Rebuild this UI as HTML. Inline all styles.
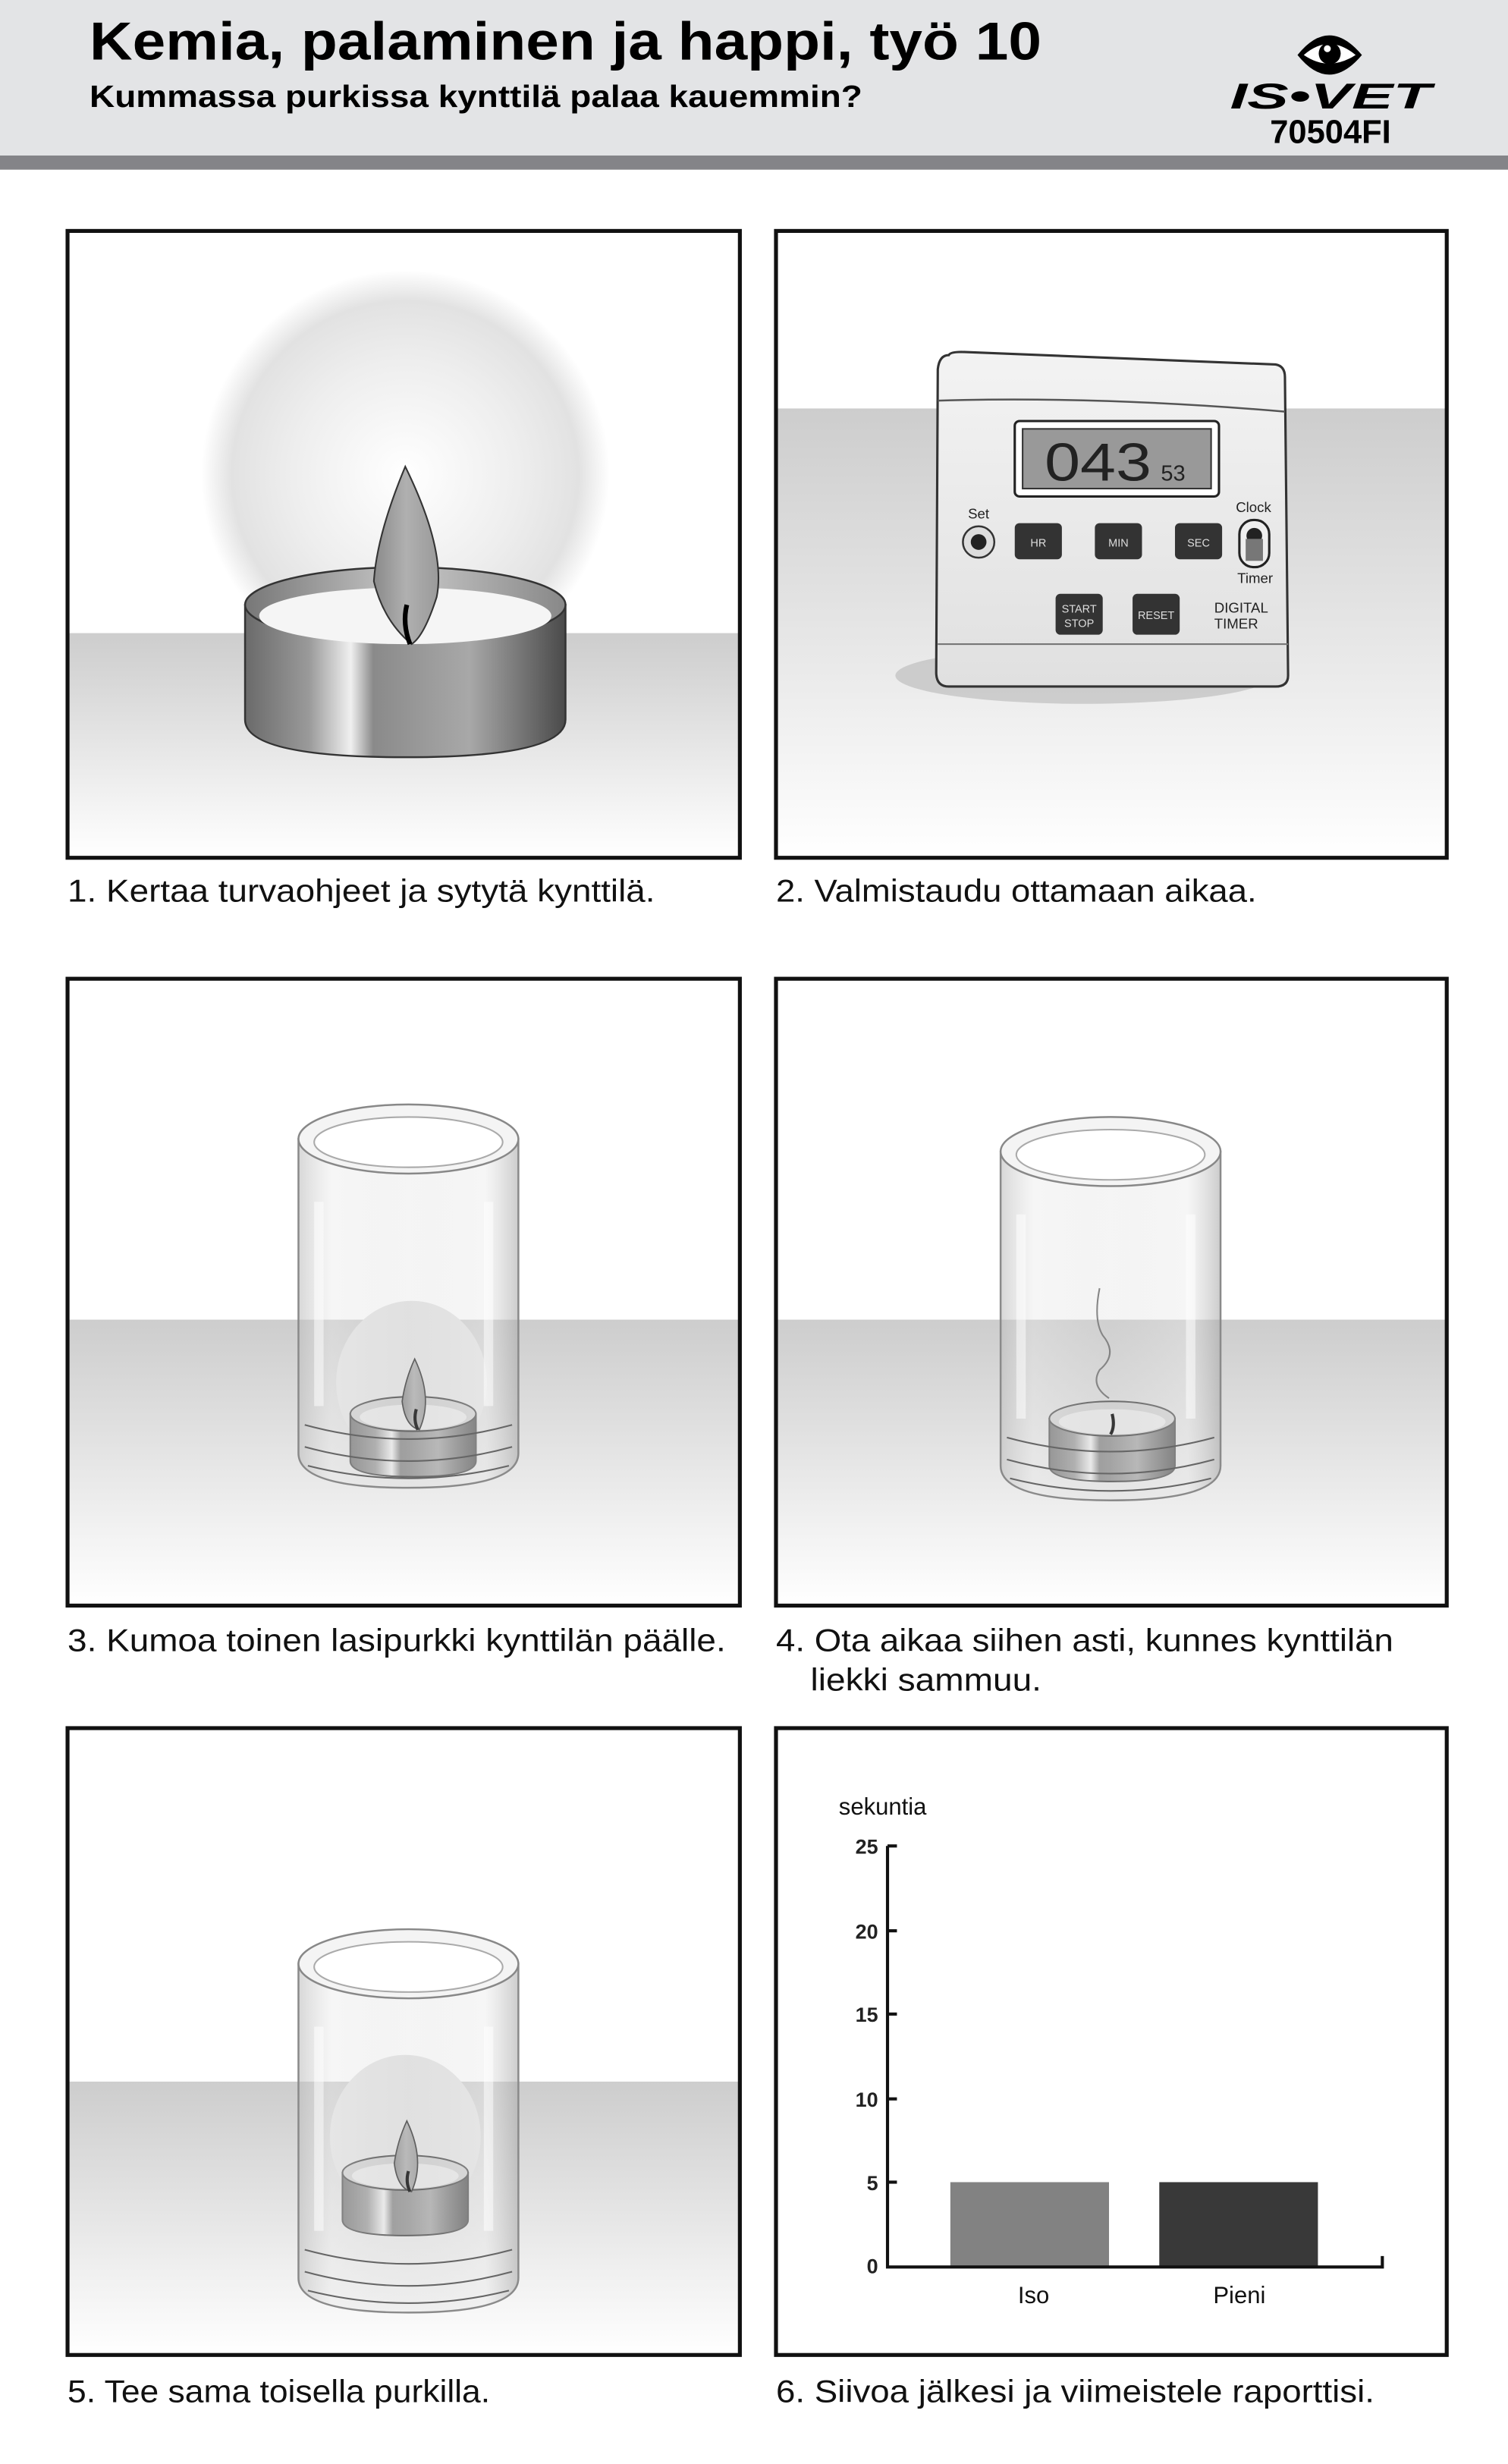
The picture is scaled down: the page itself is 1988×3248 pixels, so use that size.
<!DOCTYPE html>
<html><head><meta charset="utf-8"><style>
html,body{margin:0;padding:0;background:#fff}
svg{display:block}
text{font-family:"Liberation Sans",Arial,sans-serif}
</style></head><body>
<svg width="1988" height="3248" viewBox="0 0 960 1568.4" preserveAspectRatio="none" xmlns="http://www.w3.org/2000/svg">
<defs>
<linearGradient id="floor" x1="0" y1="0" x2="0" y2="1"><stop offset="0" stop-color="#cdcdcd"/><stop offset="1" stop-color="#ffffff"/></linearGradient>
<radialGradient id="glow" cx="0.5" cy="0.5" r="0.5"><stop offset="0" stop-color="#ffffff"/><stop offset="0.55" stop-color="#eeeeee"/><stop offset="0.85" stop-color="#e2e2e2"/><stop offset="1" stop-color="#e2e2e2" stop-opacity="0"/></radialGradient>
<linearGradient id="metal" x1="0" y1="0" x2="1" y2="0"><stop offset="0" stop-color="#6a6a6a"/><stop offset="0.2" stop-color="#9a9a9a"/><stop offset="0.33" stop-color="#f0f0f0"/><stop offset="0.4" stop-color="#8a8a8a"/><stop offset="0.7" stop-color="#a8a8a8"/><stop offset="1" stop-color="#4a4a4a"/></linearGradient>
<linearGradient id="inner" x1="0" y1="0" x2="1" y2="0"><stop offset="0" stop-color="#777"/><stop offset="0.5" stop-color="#c8c8c8"/><stop offset="1" stop-color="#888"/></linearGradient>
<linearGradient id="glass" x1="0" y1="0" x2="1" y2="0"><stop offset="0" stop-color="#bdbdbd" stop-opacity=".6"/><stop offset="0.15" stop-color="#e8e8e8" stop-opacity=".4"/><stop offset="0.5" stop-color="#d6d6d6" stop-opacity=".25"/><stop offset="0.85" stop-color="#e8e8e8" stop-opacity=".4"/><stop offset="1" stop-color="#aaaaaa" stop-opacity=".6"/></linearGradient>
<linearGradient id="flame" x1="0" y1="0" x2="1" y2="0"><stop offset="0" stop-color="#8a8a8a"/><stop offset="0.5" stop-color="#b0b0b0"/><stop offset="1" stop-color="#9a9a9a"/></linearGradient>
<linearGradient id="tbody" x1="0" y1="0" x2="0" y2="1"><stop offset="0" stop-color="#f3f3f3"/><stop offset="1" stop-color="#e0e0e0"/></linearGradient>
<g id="jar">
 <path d="M-70,0 L-70,200 Q-70,222 0,222 Q70,222 70,200 L70,0 Z" fill="url(#glass)" stroke="#8a8a8a" stroke-width="1.2"/>
 <ellipse cx="0" cy="0" rx="70" ry="22" fill="#f4f4f4" stroke="#888" stroke-width="1.2"/>
 <ellipse cx="0" cy="2" rx="60" ry="16" fill="#ffffff" stroke="#aaa" stroke-width="1"/>
 <path d="M-66,182 Q0,200 66,182 M-66,196 Q0,214 66,196 M-64,208 Q0,224 64,208" fill="none" stroke="#666" stroke-width="1"/>
 <rect x="-60" y="40" width="6" height="130" fill="#fff" opacity=".5"/>
 <rect x="48" y="40" width="6" height="130" fill="#fff" opacity=".5"/>
</g>
<g id="tea">
 <path d="M-40,0 L-40,30 Q-40,40 0,40 Q40,40 40,30 L40,0 Z" fill="url(#metal)" stroke="#444" stroke-width="1"/>
 <ellipse cx="0" cy="0" rx="40" ry="11" fill="#cfcfcf" stroke="#444" stroke-width="1"/>
 <ellipse cx="0" cy="2" rx="34" ry="8" fill="#e8e8e8"/>
</g>
</defs>

<rect x="0" y="0" width="960" height="99" fill="#e3e4e6"/>
<rect x="0" y="99" width="960" height="9" fill="#848488"/>
<text x="57" y="38" font-size="34" font-weight="bold" fill="#000" textLength="606" lengthAdjust="spacingAndGlyphs">Kemia, palaminen ja happi, työ 10</text>
<text x="57" y="68" font-size="19.5" font-weight="bold" fill="#000" textLength="492" lengthAdjust="spacingAndGlyphs">Kummassa purkissa kynttilä palaa kauemmin?</text>
<path d="M826,35 Q846,10 867,35 Q846,60 826,35 Z" fill="#000"/>
<path d="M830,35 Q846,21 863,35 Q846,46 830,35 Z" fill="#fff"/>
<circle cx="846.5" cy="34" r="7" fill="#000"/>
<circle cx="845" cy="31" r="2.2" fill="#fff"/>
<text x="847" y="69" font-size="23" font-weight="900" text-anchor="middle" fill="#000" textLength="128" lengthAdjust="spacingAndGlyphs" font-style="italic">IS•VET</text>
<text x="847" y="91" font-size="21" font-weight="bold" text-anchor="middle" fill="#000">70504FI</text>

<!-- Panel 1 -->
<rect x="43" y="147" width="428" height="399" fill="#fff"/>
<rect x="43" y="403" width="428" height="143" fill="url(#floor)"/>
<ellipse cx="258" cy="302" rx="130" ry="130" fill="url(#glow)"/>
<path d="M156,385 L156,458 Q156,482 258,482 Q360,482 360,458 L360,385 Z" fill="url(#metal)" stroke="#333" stroke-width="1.2"/>
<ellipse cx="258" cy="385" rx="102" ry="24" fill="url(#inner)" stroke="#333" stroke-width="1.2"/>
<ellipse cx="258" cy="392" rx="93" ry="18" fill="#f5f5f5"/>
<path d="M258,297 Q284,350 278,380 Q270,405 262,410 Q244,395 238,370 Q240,340 258,297 Z" fill="url(#flame)" stroke="#333" stroke-width="1"/>
<path d="M259,385 Q256,397 261,410" stroke="#000" stroke-width="3" fill="none"/>
<rect x="43" y="147" width="428" height="399" fill="none" stroke="#111" stroke-width="2.5"/>

<!-- Panel 2 -->
<rect x="494" y="147" width="427" height="399" fill="#fff"/>
<rect x="494" y="260" width="427" height="286" fill="url(#floor)"/>
<ellipse cx="690" cy="430" rx="120" ry="18" fill="#b8b8b8" opacity=".6"/>
<path d="M604,226 Q605,224 612,224 L812,232 Q818,233 818,240 L820,430 Q820,437 812,437 L604,437 Q596,437 596,428 L597,235 Q598,226 604,226 Z" fill="url(#tbody)" stroke="#333" stroke-width="1.5"/>
<path d="M597,255 Q700,252 818,262" fill="none" stroke="#555" stroke-width="1.2"/>
<path d="M597,410 L820,410" stroke="#777" stroke-width="1"/>
<rect x="646" y="268" width="130" height="48" rx="3" fill="#fff" stroke="#222" stroke-width="1.5"/>
<rect x="651" y="273" width="120" height="38" fill="#999" stroke="#333" stroke-width="1"/>
<text x="665" y="306" font-size="34" font-family="Liberation Mono" fill="#222" textLength="68" lengthAdjust="spacingAndGlyphs">043</text>
<text x="739" y="306" font-size="14" font-family="Liberation Mono" fill="#222">53</text>
<text x="623" y="330" font-size="9" text-anchor="middle" fill="#222">Set</text>
<circle cx="623" cy="345" r="10" fill="#ddd" stroke="#333" stroke-width="1.2"/><circle cx="623" cy="345" r="5" fill="#222"/>
<rect x="646" y="333" width="30" height="23" rx="3" fill="#333"/><text x="661" y="348" font-size="7" text-anchor="middle" fill="#ddd">HR</text>
<rect x="697" y="333" width="30" height="23" rx="3" fill="#333"/><text x="712" y="348" font-size="7" text-anchor="middle" fill="#ddd">MIN</text>
<rect x="748" y="333" width="30" height="23" rx="3" fill="#333"/><text x="763" y="348" font-size="7" text-anchor="middle" fill="#ddd">SEC</text>
<text x="798" y="326" font-size="9" text-anchor="middle" fill="#222">Clock</text>
<rect x="789" y="331" width="19" height="30" rx="9" fill="#eee" stroke="#222" stroke-width="1.5"/><circle cx="798.5" cy="341" r="5" fill="#222"/><rect x="793" y="343" width="11" height="14" fill="#777"/>
<text x="799" y="371" font-size="9" text-anchor="middle" fill="#222">Timer</text>
<rect x="672" y="378" width="30" height="26" rx="3" fill="#333"/><text x="687" y="390" font-size="7" text-anchor="middle" fill="#ddd">START</text><text x="687" y="399" font-size="7" text-anchor="middle" fill="#ddd">STOP</text>
<rect x="721" y="378" width="30" height="26" rx="3" fill="#333"/><text x="736" y="394" font-size="7" text-anchor="middle" fill="#ddd">RESET</text>
<text x="773" y="390" font-size="9" fill="#222">DIGITAL</text><text x="773" y="400" font-size="9" fill="#222">TIMER</text>
<rect x="494" y="147" width="427" height="399" fill="none" stroke="#111" stroke-width="2.5"/>

<text x="43" y="574" font-size="20" fill="#111" textLength="374" lengthAdjust="spacingAndGlyphs">1. Kertaa turvaohjeet ja sytytä kynttilä.</text>
<text x="494" y="574" font-size="20" fill="#111" textLength="306" lengthAdjust="spacingAndGlyphs">2. Valmistaudu ottamaan aikaa.</text>

<!-- Panel 3 -->
<rect x="43" y="623" width="428" height="399" fill="#fff"/>
<rect x="43" y="840" width="428" height="182" fill="url(#floor)"/>
<ellipse cx="262" cy="880" rx="48" ry="52" fill="#e4e4e4"/>
<use href="#tea" x="263" y="900"/>
<path d="M264,865 Q276,890 267,910 Q258,908 256,892 Q258,878 264,865 Z" fill="url(#flame)" stroke="#333" stroke-width=".8"/>
<path d="M265,897 Q263,904 266,910" stroke="#000" stroke-width="2" fill="none"/>
<use href="#jar" x="260" y="725"/>
<rect x="43" y="623" width="428" height="399" fill="none" stroke="#111" stroke-width="2.5"/>

<!-- Panel 4 -->
<rect x="494" y="623" width="427" height="399" fill="#fff"/>
<rect x="494" y="840" width="427" height="182" fill="url(#floor)"/>
<use href="#tea" x="708" y="903"/>
<path d="M708,900 Q710,908 707,913" stroke="#000" stroke-width="2" fill="none"/>
<path d="M700,820 Q696,840 702,850 Q712,862 700,872 Q694,882 706,890" stroke="#666" stroke-width="1" fill="none"/>
<use href="#jar" x="707" y="733"/>
<rect x="494" y="623" width="427" height="399" fill="none" stroke="#111" stroke-width="2.5"/>

<text x="43" y="1051" font-size="20" fill="#111" textLength="419" lengthAdjust="spacingAndGlyphs">3. Kumoa toinen lasipurkki kynttilän päälle.</text>
<text x="494" y="1051" font-size="20" fill="#111" textLength="393" lengthAdjust="spacingAndGlyphs">4. Ota aikaa siihen asti, kunnes kynttilän</text>
<text x="516" y="1076" font-size="20" fill="#111" textLength="147" lengthAdjust="spacingAndGlyphs">liekki sammuu.</text>

<!-- Panel 5 -->
<rect x="43" y="1100" width="428" height="399" fill="#fff"/>
<rect x="43" y="1325" width="428" height="174" fill="url(#floor)"/>
<ellipse cx="258" cy="1360" rx="48" ry="52" fill="#e4e4e4"/>
<use href="#tea" x="258" y="1383"/>
<path d="M259,1350 Q271,1375 262,1395 Q253,1393 251,1377 Q253,1363 259,1350 Z" fill="url(#flame)" stroke="#333" stroke-width=".8"/>
<path d="M260,1382 Q258,1389 261,1395" stroke="#000" stroke-width="2" fill="none"/>
<use href="#jar" x="260" y="1250"/>
<rect x="43" y="1100" width="428" height="399" fill="none" stroke="#111" stroke-width="2.5"/>

<!-- Panel 6 chart -->
<rect x="494" y="1100" width="427" height="399" fill="none" stroke="#111" stroke-width="2.5"/>
<text x="534" y="1155" font-size="15" fill="#111">sekuntia</text>
<rect x="605" y="1389" width="101" height="54" fill="#828282"/>
<rect x="738" y="1389" width="101" height="54" fill="#393939"/>
<path d="M565,1175 L565,1443 L880,1443 L880,1436" fill="none" stroke="#111" stroke-width="2"/>
<g stroke="#111" stroke-width="2">
<line x1="565" y1="1175" x2="571" y2="1175"/><line x1="565" y1="1229" x2="571" y2="1229"/><line x1="565" y1="1282" x2="571" y2="1282"/><line x1="565" y1="1336" x2="571" y2="1336"/><line x1="565" y1="1389" x2="571" y2="1389"/>
</g>
<g font-size="13" font-weight="bold" fill="#222" text-anchor="end">
<text x="559" y="1180">25</text><text x="559" y="1234">20</text><text x="559" y="1287">15</text><text x="559" y="1341">10</text><text x="559" y="1394">5</text><text x="559" y="1447">0</text>
</g>
<text x="658" y="1466" font-size="15" text-anchor="middle" fill="#111">Iso</text>
<text x="789" y="1466" font-size="15" text-anchor="middle" fill="#111">Pieni</text>

<text x="43" y="1529" font-size="20" fill="#111" textLength="269" lengthAdjust="spacingAndGlyphs">5. Tee sama toisella purkilla.</text>
<text x="494" y="1529" font-size="20" fill="#111" textLength="381" lengthAdjust="spacingAndGlyphs">6. Siivoa jälkesi ja viimeistele raporttisi.</text>
</svg>
</body></html>
